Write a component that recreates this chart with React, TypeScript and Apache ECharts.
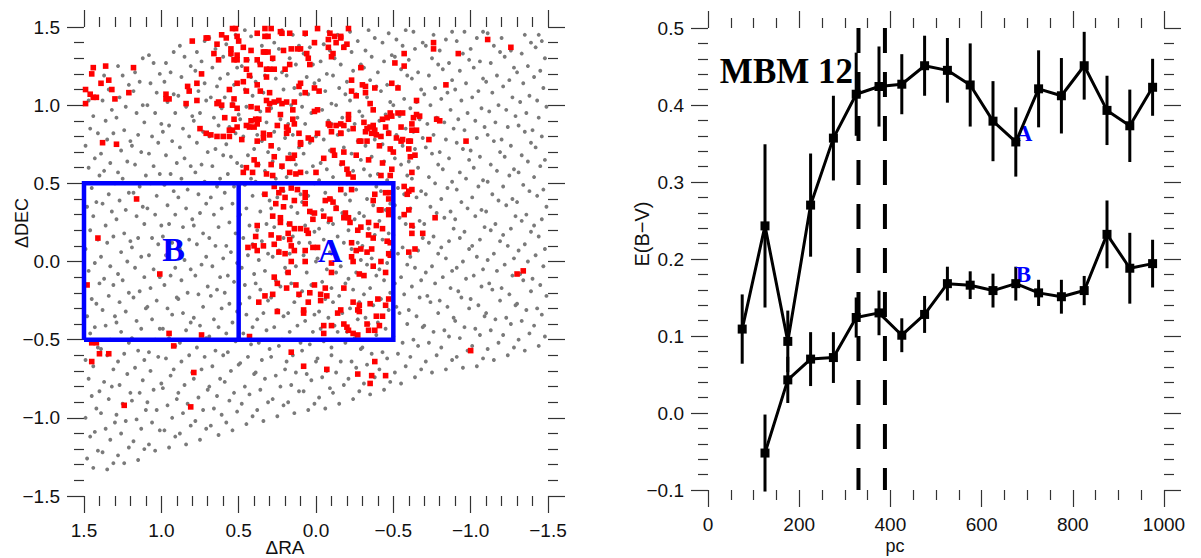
import React, { useEffect, useRef } from "react";
import * as echarts from "echarts";

// ---------------- Left panel data (ΔRA, ΔDEC pairs, flat) ----------------
const RED_STARS = [
  0.80,1.41, 0.71,1.43, 1.44,1.24, 1.36,1.25, 1.45,1.20, 1.34,1.16, 1.39,1.14, 1.18,1.24, 1.49,1.10, 1.32,1.10,
  1.46,1.07, 1.44,1.05, 1.42,1.05, 1.30,1.04, 1.21,1.08, 1.49,1.01, 0.97,1.07, 0.97,1.04, 0.95,1.04, 0.83,1.12,
  0.82,1.09, 0.77,1.14, 0.74,1.20, 0.77,1.03, 0.84,1.01, 0.75,0.85, 0.71,0.82, 1.38,0.76, 1.29,0.75,
  0.54,1.49, 0.52,1.49, 0.33,1.49, 0.29,1.49, -0.01,1.49, 0.70,1.43, 0.61,1.45, 0.58,1.43, 0.51,1.44, 0.38,1.46,
  0.33,1.44, 0.31,1.44, 0.23,1.47, 0.22,1.46, 0.17,1.46, 0.07,1.46, -0.09,1.46, -0.12,1.44, 0.01,1.40, -0.08,1.42,
  -0.13,1.40, -0.16,1.43, 0.64,1.39, 0.50,1.41, 0.47,1.37, 0.55,1.36, 0.42,1.35, 0.66,1.33, 0.63,1.29, 0.55,1.33,
  0.51,1.32, 0.51,1.29, 0.34,1.34, 0.33,1.34, 0.31,1.34, 0.21,1.35, 0.16,1.36, 0.12,1.36, 0.10,1.36, 0.06,1.33,
  0.05,1.30, 0.04,1.26, -0.08,1.37, -0.11,1.33, -0.10,1.31, 0.38,1.29, 0.28,1.30, 0.45,1.29, 0.53,1.29, 0.36,1.26,
  0.17,1.26, 0.45,1.23, 0.32,1.23, 0.30,1.23, 0.27,1.23, 0.20,1.23, 0.32,1.18, 0.43,1.19, 0.51,1.14, 0.47,1.15,
  0.10,1.14, 0.11,1.12, 0.07,1.08, 0.38,1.13, 0.56,1.10, 0.45,1.09, 0.36,1.09, 0.30,1.08, 0.01,1.11, -0.02,1.09,
  0.53,1.04, 0.63,1.02, 0.64,1.01, 0.61,1.00, 0.54,1.00, 0.51,0.98, 0.42,0.99, 0.38,0.98, 0.32,1.03, 0.30,1.01,
  0.27,1.02, 0.24,1.03, 0.22,1.01, 0.19,1.02, 0.14,1.02, -0.01,0.97, 0.01,0.96, 0.31,0.97, 0.15,0.97, 0.23,0.94,
  0.59,0.92, 0.53,0.91, 0.42,0.90, 0.39,0.91, 0.37,0.91, 0.38,0.88, 0.15,0.91, 0.14,0.88, 0.45,0.87, 0.43,0.86,
  0.40,0.86, 0.25,0.87, 0.19,0.86, 0.51,0.86, 0.56,0.84, 0.54,0.84, 0.18,0.84, 0.11,0.82, 0.05,0.79, 0.03,0.78,
  -0.01,0.82, -0.08,0.88, -0.09,0.87, -0.13,0.87, -0.16,0.88, -0.10,0.83, -0.16,0.82, 0.68,0.81, 0.64,0.80, 0.60,0.80,
  0.56,0.80, 0.34,0.82, 0.34,0.79, 0.48,0.78, 0.38,0.77, 0.30,0.81, 0.19,0.82, 0.10,0.76,
  -0.21,1.49, -0.16,1.44, -0.20,1.39, -0.18,1.37, -0.76,1.40, -0.76,1.36, -0.92,1.33, -0.57,1.33, -1.11,1.42, -0.51,1.27,
  -0.57,1.25, -0.29,1.24, -0.23,1.16, -0.30,1.13, -0.32,1.12, -0.38,1.11, -0.49,1.14, -0.53,1.11, -0.84,1.13, -0.23,1.09,
  -0.26,1.06, -0.32,1.08, -0.65,1.03, -0.35,1.01, -0.37,0.97, -0.21,0.94, -0.21,0.91, -0.48,0.95, -0.46,0.92, -0.49,0.93,
  -0.53,0.95, -0.56,0.95, -0.63,0.92, -0.65,0.94, -0.67,0.93, -0.78,0.91, -0.80,0.90, -0.18,0.87, -0.24,0.85, -0.31,0.89,
  -0.33,0.85, -0.32,0.83, -0.35,0.86, -0.37,0.87, -0.38,0.84, -0.45,0.86, -0.43,0.91, -0.55,0.86, -0.62,0.88, -0.62,0.84,
  -0.65,0.84, -0.16,0.82, -0.28,0.77, -0.33,0.77, -0.36,0.82, -0.39,0.81, -0.42,0.80, -0.47,0.82, -0.52,0.79, -0.56,0.78,
  -0.60,0.77, -0.73,0.78, -0.97,0.77, -1.26,1.37, 1.16,0.40, 1.41,0.15,
  0.47,0.57, 0.45,0.60, 0.41,0.57, 0.40,0.65, 0.38,0.62, 0.29,0.74, 0.32,0.56, 0.28,0.55, 0.27,0.67, 0.29,0.62,
  0.22,0.61, 0.18,0.66, 0.15,0.66, 0.14,0.68, 0.10,0.75, 0.17,0.57, 0.13,0.56, 0.10,0.57, 0.00,0.57, -0.05,0.66,
  -0.12,0.68, -0.11,0.71, 0.27,0.48, 0.24,0.44, 0.22,0.46, 0.20,0.41, 0.33,0.43, 0.16,0.47, 0.12,0.46, 0.07,0.44,
  0.26,0.37, 0.21,0.35, 0.14,0.39, 0.07,0.37, 0.07,0.41, 0.04,0.32, 0.01,0.31, 0.02,0.27, -0.05,0.29, -0.09,0.27,
  -0.09,0.40, -0.11,0.38, -0.06,0.39, -0.13,0.34, 0.23,0.28, 0.23,0.25, 0.28,0.29, 0.17,0.24, 0.14,0.21, 0.10,0.21,
  0.38,0.23, 0.39,0.16, 0.29,0.17, 0.24,0.15, 0.18,0.18, 0.17,0.14, 0.06,0.20, 0.05,0.18, 0.44,0.09, 0.40,0.10,
  0.38,0.07, 0.34,0.10, 0.27,0.11, 0.24,0.06, 0.20,0.05, 0.16,0.10, 0.14,0.07, 0.07,0.07, 0.02,0.09, -0.01,0.09,
  -0.10,-0.01, 0.07,0.00, 0.16,0.00,
  -0.18,0.70, -0.29,0.77, -0.41,0.74, -0.48,0.72, -0.50,0.70, -0.55,0.77, -0.61,0.77, -0.60,0.72, -0.61,0.67, -0.64,0.68,
  -0.26,0.68, -0.34,0.65, -0.43,0.63, -0.17,0.63, -0.20,0.59, -0.21,0.56, -0.49,0.59, -0.48,0.55, -0.42,0.55, -0.62,0.57,
  -0.24,0.54, -0.16,0.46, -0.23,0.46, -0.57,0.48, -0.60,0.45, -0.62,0.46, -0.59,0.43, -0.38,0.43, -0.37,0.39, -0.45,0.44,
  -0.48,0.44, -0.47,0.40, -0.19,0.31, -0.18,0.28, -0.21,0.28, -0.22,0.25, -0.41,0.33, -0.42,0.33, -0.47,0.33, -0.47,0.30,
  -0.60,0.33, -0.57,0.30, -0.34,0.25, -0.39,0.23, -0.43,0.21, -0.29,0.22, -0.27,0.20, -0.34,0.17, -0.37,0.15, -0.62,0.23,
  -0.69,0.18, -0.62,0.18, -0.77,0.28, -0.23,0.12, -0.26,0.07, -0.29,0.08, -0.33,0.06, -0.36,0.08, -0.46,0.13, -0.48,0.12,
  -0.47,0.05, -0.64,0.08, -0.60,0.06, -0.24,0.00, -0.23,0.03, -0.37,-0.03, -0.42,0.00, -0.48,0.04,
  1.48,-0.15, 1.01,-0.08, 0.27,-0.10, 0.18,-0.07, -0.10,-0.07, -0.28,-0.08, -0.31,-0.09, -0.45,-0.07, 0.25,-0.14, 0.19,-0.17,
  0.13,-0.15, 0.01,-0.15, -0.06,-0.17, -0.18,-0.17, -0.07,-0.22, -0.03,-0.21, 0.04,-0.20, 0.11,-0.21, 0.28,-0.21, 0.33,-0.22,
  0.37,-0.26, 0.05,-0.26, -0.03,-0.25, -0.24,-0.26, -0.28,-0.28, -0.35,-0.27, -0.40,-0.24, -0.47,-0.24, -0.45,-0.28, 0.25,-0.32,
  0.08,-0.31, 0.08,-0.33, -0.14,-0.33, -0.16,-0.31, -0.27,-0.31, -0.28,-0.32, -0.39,-0.35, -0.43,-0.35, -0.05,-0.41, -0.10,-0.41,
  -0.18,-0.40, -0.20,-0.42, -0.21,-0.44, -0.33,-0.40, -0.41,-0.41, -0.38,-0.44, -0.34,-0.44, -0.05,-0.46, -0.24,-0.46, -0.27,-0.47,
  0.95,-0.46, 0.74,-0.47, 0.43,-0.48, 1.45,-0.52, 1.42,-0.52, 1.40,-0.59, 1.34,-0.59, 1.45,-0.64, 0.92,-0.54, 0.79,-0.71,
  0.16,-0.58, 0.08,-0.67, -0.07,-0.69, -0.27,-0.72, -0.38,-0.64, -0.36,-0.73, -0.35,-0.78, -0.45,-0.73, 1.24,-0.92, 0.81,-0.93,
  -1.00,-0.57, -1.30,-0.08, -1.34,-0.06,
];

const GRAY_STARS = [
  1.44,-1.32, 1.48,-1.26, 1.41,-1.21, 1.46,-1.12, 1.43,-1.09, 1.49,-1.0, 1.42,-0.94, 1.45,-0.86, 1.40,-0.83, 1.47,-0.75,
  1.44,-0.67, 1.49,-0.63, 1.41,-0.55, 1.46,-0.46, 1.43,-0.42, 1.48,-0.35, 1.42,-0.27, 1.45,-0.24, 1.40,-0.14, 1.47,-0.06,
  1.43,-0.01, 1.49,0.08, 1.41,0.14, 1.46,0.2, 1.44,0.29, 1.48,0.35, 1.42,0.38, 1.45,0.47, 1.40,0.55, 1.47,0.6,
  1.43,0.66, 1.49,0.74, 1.41,0.82, 1.46,0.85, 1.44,0.93, 1.47,1.03,
  1.35,-1.33, 1.31,-1.29, 1.38,-1.22, 1.33,-1.14, 1.36,-1.07, 1.30,-1.03, 1.39,-0.97, 1.34,-0.88, 1.32,-0.8, 1.37,-0.77,
  1.31,-0.69, 1.35,-0.6, 1.39,-0.56, 1.33,-0.5, 1.36,-0.41, 1.30,-0.35, 1.38,-0.31, 1.34,-0.22, 1.31,-0.15, 1.37,-0.11,
  1.33,-0.03, 1.39,0.03, 1.35,0.12, 1.31,0.16, 1.36,0.23, 1.32,0.32, 1.38,0.37, 1.34,0.43, 1.30,0.5, 1.37,0.58,
  1.33,0.63, 1.39,0.69, 1.35,0.78, 1.31,0.82, 1.36,0.9, 1.32,0.97, 1.38,1.03, 1.34,1.1, 1.37,1.19,
  1.24,-1.29, 1.28,-1.24, 1.21,-1.19, 1.26,-1.1, 1.23,-1.02, 1.29,-0.98, 1.25,-0.91, 1.20,-0.84, 1.27,-0.79, 1.22,-0.72,
  1.28,-0.64, 1.24,-0.59, 1.21,-0.52, 1.26,-0.45, 1.29,-0.39, 1.23,-0.32, 1.27,-0.26, 1.21,-0.2, 1.25,-0.12, 1.28,-0.08,
  1.22,0.0, 1.26,0.06, 1.20,0.13, 1.24,0.18, 1.29,0.27, 1.23,0.33, 1.27,0.39, 1.21,0.44, 1.25,0.53, 1.28,0.57,
  1.22,0.64, 1.26,0.71, 1.20,0.77, 1.24,0.84, 1.29,0.92, 1.23,0.99, 1.27,1.05, 1.21,1.13, 1.25,1.19, 1.28,1.25,
  1.15,-1.27, 1.11,-1.2, 1.18,-1.15, 1.13,-1.07, 1.16,-1.01, 1.10,-0.95, 1.19,-0.89, 1.14,-0.84, 1.12,-0.76, 1.17,-0.68,
  1.11,-0.63, 1.15,-0.57, 1.19,-0.49, 1.13,-0.43, 1.16,-0.38, 1.10,-0.3, 1.18,-0.23, 1.14,-0.19, 1.11,-0.1, 1.17,-0.04,
  1.13,0.03, 1.19,0.09, 1.15,0.15, 1.11,0.24, 1.16,0.29, 1.12,0.35, 1.18,0.44, 1.14,0.48, 1.10,0.55, 1.17,0.62,
  1.13,0.7, 1.19,0.74, 1.15,0.81, 1.11,0.89, 1.16,0.95, 1.12,1.0, 1.18,1.09, 1.14,1.15, 1.17,1.21, 1.12,1.3,
  1.04,-1.21, 1.08,-1.17, 1.01,-1.08, 1.06,-1.03, 1.03,-0.95, 1.09,-0.9, 1.05,-0.82, 1.00,-0.78, 1.07,-0.7, 1.02,-0.61,
  1.08,-0.58, 1.04,-0.5, 1.01,-0.43, 1.06,-0.37, 1.09,-0.29, 1.03,-0.25, 1.07,-0.17, 1.01,-0.1, 1.05,-0.05, 1.08,0.04,
  1.02,0.11, 1.06,0.15, 1.00,0.23, 1.04,0.3, 1.09,0.34, 1.03,0.42, 1.07,0.5, 1.01,0.56, 1.05,0.61, 1.08,0.69,
  1.02,0.76, 1.06,0.8, 1.00,0.88, 1.04,0.95, 1.09,1.0, 1.03,1.08, 1.07,1.14, 1.01,1.2, 1.05,1.27, 1.08,1.32,
  0.95,-1.19, 0.91,-1.12, 0.98,-1.08, 0.93,-1.0, 0.96,-0.92, 0.90,-0.88, 0.99,-0.81, 0.94,-0.73, 0.92,-0.69, 0.97,-0.62,
  0.91,-0.54, 0.95,-0.49, 0.99,-0.43, 0.93,-0.34, 0.96,-0.3, 0.90,-0.23, 0.98,-0.15, 0.94,-0.09, 0.91,-0.04, 0.97,0.04,
  0.93,0.12, 0.99,0.16, 0.95,0.24, 0.91,0.3, 0.96,0.36, 0.92,0.45, 0.98,0.49, 0.94,0.56, 0.90,0.63, 0.97,0.68,
  0.93,0.77, 0.99,0.83, 0.95,0.87, 0.91,0.95, 0.96,1.02, 0.92,1.07, 0.98,1.15, 0.94,1.21, 0.97,1.27, 0.92,1.34,
  0.84,-1.17, 0.88,-1.1, 0.81,-1.05, 0.86,-0.97, 0.83,-0.91, 0.89,-0.84, 0.85,-0.79, 0.80,-0.71, 0.87,-0.64, 0.82,-0.6,
  0.88,-0.52, 0.84,-0.44, 0.81,-0.39, 0.86,-0.33, 0.89,-0.24, 0.83,-0.2, 0.87,-0.12, 0.81,-0.05, 0.85,0.01, 0.88,0.08,
  0.82,0.14, 0.86,0.22, 0.80,0.27, 0.84,0.34, 0.89,0.41, 0.83,0.46, 0.87,0.53, 0.81,0.61, 0.85,0.66, 0.88,0.73,
  0.82,0.8, 0.86,0.85, 0.80,0.93, 0.84,0.99, 0.89,1.06, 0.83,1.12, 0.87,1.18, 0.81,1.25, 0.85,1.31, 0.88,1.38,
  0.75,-1.14, 0.71,-1.07, 0.78,-1.02, 0.73,-0.95, 0.76,-0.87, 0.70,-0.82, 0.79,-0.75, 0.74,-0.69, 0.72,-0.61, 0.77,-0.55,
  0.71,-0.49, 0.75,-0.41, 0.79,-0.36, 0.73,-0.29, 0.76,-0.21, 0.70,-0.16, 0.78,-0.09, 0.74,-0.02, 0.71,0.03, 0.77,0.11,
  0.73,0.18, 0.79,0.23, 0.75,0.31, 0.71,0.37, 0.76,0.43, 0.72,0.51, 0.78,0.57, 0.74,0.62, 0.70,0.7, 0.77,0.76,
  0.73,0.83, 0.79,0.9, 0.75,0.95, 0.71,1.03, 0.76,1.09, 0.72,1.14, 0.78,1.22, 0.74,1.28, 0.77,1.34, 0.72,1.41,
  0.63,-1.11, 0.68,-1.05, 0.61,-0.98, 0.66,-0.94, 0.64,-0.86, 0.69,-0.8, 0.62,-0.75, 0.67,-0.67, 0.60,-0.6, 0.65,-0.57,
  0.69,-0.48, 0.63,-0.42, 0.66,-0.37, 0.61,-0.3, 0.68,-0.22, 0.64,-0.18, 0.62,-0.1, 0.67,-0.03, 0.60,0.02, 0.65,0.1,
  0.69,0.15, 0.63,0.22, 0.66,0.3, 0.61,0.34, 0.68,0.41, 0.64,0.48, 0.62,0.53, 0.67,0.61, 0.60,0.68, 0.65,0.72,
  0.69,0.8, 0.63,0.87, 0.66,0.92, 0.61,0.98, 0.68,1.05, 0.64,1.12, 0.62,1.17, 0.67,1.24, 0.60,1.31, 0.65,1.36, 0.69,1.43,
  0.54,-1.08, 0.58,-1.03, 0.51,-0.96, 0.56,-0.89, 0.53,-0.84, 0.59,-0.77, 0.55,-0.7, 0.50,-0.66, 0.57,-0.58, 0.52,-0.51,
  0.58,-0.46, 0.54,-0.39, 0.51,-0.32, 0.56,-0.27, 0.59,-0.2, 0.53,-0.13, 0.57,-0.09, 0.51,-0.01, 0.55,0.06, 0.58,0.1,
  0.52,0.18, 0.56,0.25, 0.50,0.29, 0.54,0.37, 0.59,0.44, 0.53,0.48, 0.57,0.56, 0.51,0.63, 0.55,0.67, 0.58,0.75,
  0.52,0.82, 0.56,0.86, 0.50,0.94, 0.54,1.01, 0.59,1.05, 0.53,1.13, 0.57,1.2, 0.51,1.24, 0.55,1.32, 0.58,1.39, 0.52,1.45,
  0.45,-1.04, 0.41,-0.99, 0.48,-0.91, 0.43,-0.85, 0.46,-0.8, 0.40,-0.72, 0.49,-0.65, 0.44,-0.61, 0.42,-0.53, 0.47,-0.46,
  0.41,-0.42, 0.45,-0.34, 0.49,-0.27, 0.43,-0.23, 0.46,-0.15, 0.40,-0.08, 0.48,-0.04, 0.44,0.04, 0.41,0.11, 0.47,0.15,
  0.43,0.23, 0.49,0.3, 0.45,0.34, 0.41,0.42, 0.46,0.49, 0.42,0.53, 0.48,0.61, 0.44,0.68, 0.40,0.72, 0.47,0.8,
  0.43,0.87, 0.49,0.91, 0.45,0.99, 0.41,1.06, 0.46,1.1, 0.42,1.18, 0.48,1.25, 0.44,1.29, 0.47,1.37, 0.42,1.44, 0.46,1.48,
  0.34,-1.02, 0.38,-0.95, 0.31,-0.9, 0.36,-0.82, 0.33,-0.75, 0.39,-0.71, 0.35,-0.63, 0.30,-0.56, 0.37,-0.52, 0.32,-0.44,
  0.38,-0.37, 0.34,-0.33, 0.31,-0.25, 0.36,-0.18, 0.39,-0.14, 0.33,-0.06, 0.37,0.01, 0.31,0.05, 0.35,0.13, 0.38,0.2,
  0.32,0.24, 0.36,0.32, 0.30,0.39, 0.34,0.43, 0.39,0.51, 0.33,0.58, 0.37,0.62, 0.31,0.7, 0.35,0.77, 0.38,0.81,
  0.32,0.89, 0.36,0.96, 0.30,1.0, 0.34,1.08, 0.39,1.15, 0.33,1.19, 0.37,1.27, 0.31,1.34, 0.35,1.38, 0.38,1.46,
  0.25,-0.99, 0.21,-0.92, 0.28,-0.88, 0.23,-0.8, 0.26,-0.73, 0.20,-0.69, 0.29,-0.61, 0.24,-0.54, 0.22,-0.5, 0.27,-0.42,
  0.21,-0.35, 0.25,-0.31, 0.29,-0.23, 0.23,-0.16, 0.26,-0.12, 0.20,-0.04, 0.28,0.03, 0.24,0.07, 0.21,0.15, 0.27,0.22,
  0.23,0.26, 0.29,0.34, 0.25,0.41, 0.21,0.45, 0.26,0.53, 0.22,0.6, 0.28,0.64, 0.24,0.72, 0.20,0.79, 0.27,0.83,
  0.23,0.91, 0.29,0.98, 0.25,1.02, 0.21,1.1, 0.26,1.17, 0.22,1.21, 0.28,1.29, 0.24,1.36, 0.27,1.4, 0.22,1.48,
  0.14,-0.97, 0.18,-0.9, 0.11,-0.83, 0.16,-0.79, 0.13,-0.71, 0.19,-0.64, 0.15,-0.6, 0.10,-0.52, 0.17,-0.45, 0.12,-0.41,
  0.18,-0.33, 0.14,-0.26, 0.11,-0.22, 0.16,-0.14, 0.19,-0.07, 0.13,-0.03, 0.17,0.05, 0.11,0.12, 0.15,0.16, 0.18,0.24,
  0.12,0.31, 0.16,0.35, 0.10,0.43, 0.14,0.5, 0.19,0.54, 0.13,0.62, 0.17,0.69, 0.11,0.73, 0.15,0.81, 0.18,0.88,
  0.12,0.92, 0.16,1.0, 0.10,1.07, 0.14,1.11, 0.19,1.19, 0.13,1.26, 0.17,1.3, 0.11,1.38, 0.15,1.45,
  0.05,-0.95, 0.01,-0.91, 0.08,-0.83, 0.03,-0.76, 0.06,-0.72, 0.00,-0.64, 0.09,-0.57, 0.04,-0.53, 0.02,-0.45, 0.07,-0.38,
  0.01,-0.34, 0.05,-0.26, 0.09,-0.19, 0.03,-0.15, 0.06,-0.07, 0.00,0.0, 0.08,0.04, 0.04,0.12, 0.01,0.19, 0.07,0.23,
  0.03,0.31, 0.09,0.38, 0.05,0.42, 0.01,0.5, 0.06,0.57, 0.02,0.61, 0.08,0.69, 0.04,0.76, 0.00,0.8, 0.07,0.88,
  0.03,0.95, 0.09,0.99, 0.05,1.07, 0.01,1.14, 0.06,1.18, 0.02,1.26, 0.08,1.33, 0.04,1.37, 0.07,1.45,
  -0.06,-0.94, -0.02,-0.87, -0.09,-0.81, -0.04,-0.74, -0.07,-0.7, -0.01,-0.62, -0.10,-0.55, -0.05,-0.51, -0.03,-0.43, -0.08,-0.36,
  -0.02,-0.32, -0.06,-0.24, -0.10,-0.17, -0.04,-0.13, -0.07,-0.05, -0.01,0.02, -0.09,0.06, -0.05,0.14, -0.02,0.21, -0.08,0.25,
  -0.04,0.33, -0.10,0.4, -0.06,0.44, -0.02,0.52, -0.07,0.59, -0.03,0.63, -0.09,0.71, -0.05,0.78, -0.01,0.82, -0.08,0.9,
  -0.04,0.97, -0.10,1.01, -0.06,1.09, -0.02,1.16, -0.07,1.2, -0.03,1.28, -0.09,1.35, -0.05,1.39, -0.08,1.47,
  -0.15,-0.91, -0.11,-0.84, -0.18,-0.79, -0.13,-0.71, -0.16,-0.64, -0.10,-0.6, -0.19,-0.52, -0.14,-0.45, -0.12,-0.41, -0.17,-0.33,
  -0.11,-0.26, -0.15,-0.22, -0.19,-0.14, -0.13,-0.07, -0.16,-0.03, -0.10,0.05, -0.18,0.12, -0.14,0.16, -0.11,0.24, -0.17,0.31,
  -0.13,0.35, -0.19,0.43, -0.15,0.5, -0.11,0.54, -0.16,0.62, -0.12,0.69, -0.18,0.73, -0.14,0.81, -0.10,0.88, -0.17,0.92,
  -0.13,1.0, -0.19,1.07, -0.15,1.11, -0.11,1.19, -0.16,1.26, -0.12,1.3, -0.18,1.38, -0.14,1.45,
  -0.24,-0.88, -0.28,-0.83, -0.21,-0.75, -0.26,-0.68, -0.23,-0.64, -0.29,-0.56, -0.25,-0.49, -0.20,-0.45, -0.27,-0.37, -0.22,-0.3,
  -0.28,-0.26, -0.24,-0.18, -0.21,-0.11, -0.26,-0.07, -0.29,0.01, -0.23,0.08, -0.27,0.12, -0.21,0.2, -0.25,0.27, -0.28,0.31,
  -0.22,0.39, -0.26,0.46, -0.20,0.5, -0.24,0.58, -0.29,0.65, -0.23,0.69, -0.27,0.77, -0.21,0.84, -0.25,0.88, -0.28,0.96,
  -0.22,1.03, -0.26,1.07, -0.20,1.15, -0.24,1.22, -0.29,1.26, -0.23,1.34, -0.27,1.41, -0.22,1.47,
  -0.35,-0.85, -0.31,-0.78, -0.38,-0.74, -0.33,-0.66, -0.36,-0.59, -0.30,-0.55, -0.39,-0.47, -0.34,-0.4, -0.32,-0.36, -0.37,-0.28,
  -0.31,-0.21, -0.35,-0.17, -0.39,-0.09, -0.33,-0.02, -0.36,0.02, -0.30,0.1, -0.38,0.17, -0.34,0.21, -0.31,0.29, -0.37,0.36,
  -0.33,0.4, -0.39,0.48, -0.35,0.55, -0.31,0.59, -0.36,0.67, -0.32,0.74, -0.38,0.78, -0.34,0.86, -0.30,0.93, -0.37,0.97,
  -0.33,1.05, -0.39,1.12, -0.35,1.16, -0.31,1.24, -0.36,1.31, -0.32,1.35, -0.38,1.43, -0.34,1.48,
  -0.44,-0.82, -0.48,-0.77, -0.41,-0.69, -0.46,-0.62, -0.43,-0.58, -0.49,-0.5, -0.45,-0.43, -0.40,-0.39, -0.47,-0.31, -0.42,-0.24,
  -0.48,-0.2, -0.44,-0.12, -0.41,-0.05, -0.46,-0.01, -0.49,0.07, -0.43,0.14, -0.47,0.18, -0.41,0.26, -0.45,0.33, -0.48,0.37,
  -0.42,0.45, -0.46,0.52, -0.40,0.56, -0.44,0.64, -0.49,0.71, -0.43,0.75, -0.47,0.83, -0.41,0.9, -0.45,0.94, -0.48,1.02,
  -0.42,1.09, -0.46,1.13, -0.40,1.21, -0.44,1.28, -0.49,1.32, -0.43,1.4, -0.47,1.46,
  -0.55,-0.78, -0.51,-0.71, -0.58,-0.67, -0.53,-0.59, -0.56,-0.52, -0.50,-0.48, -0.59,-0.4, -0.54,-0.33, -0.52,-0.29, -0.57,-0.21,
  -0.51,-0.14, -0.55,-0.1, -0.59,-0.02, -0.53,0.05, -0.56,0.09, -0.50,0.17, -0.58,0.24, -0.54,0.28, -0.51,0.36, -0.57,0.43,
  -0.53,0.47, -0.59,0.55, -0.55,0.62, -0.51,0.66, -0.56,0.74, -0.52,0.81, -0.58,0.85, -0.54,0.93, -0.50,1.0, -0.57,1.04,
  -0.53,1.12, -0.59,1.19, -0.55,1.23, -0.51,1.31, -0.56,1.38, -0.52,1.42, -0.58,1.48,
  -0.64,-0.74, -0.68,-0.69, -0.61,-0.61, -0.66,-0.54, -0.63,-0.5, -0.69,-0.42, -0.65,-0.35, -0.60,-0.31, -0.67,-0.23, -0.62,-0.16,
  -0.68,-0.12, -0.64,-0.04, -0.61,0.03, -0.66,0.07, -0.69,0.15, -0.63,0.22, -0.67,0.26, -0.61,0.34, -0.65,0.41, -0.68,0.45,
  -0.62,0.53, -0.66,0.6, -0.60,0.64, -0.64,0.72, -0.69,0.79, -0.63,0.83, -0.67,0.91, -0.61,0.98, -0.65,1.02, -0.68,1.1,
  -0.62,1.17, -0.66,1.21, -0.60,1.29, -0.64,1.36, -0.69,1.4, -0.63,1.47,
  -0.75,-0.71, -0.71,-0.64, -0.78,-0.6, -0.73,-0.52, -0.76,-0.45, -0.70,-0.41, -0.79,-0.33, -0.74,-0.26, -0.72,-0.22, -0.77,-0.14,
  -0.71,-0.07, -0.75,-0.03, -0.79,0.05, -0.73,0.12, -0.76,0.16, -0.70,0.24, -0.78,0.31, -0.74,0.35, -0.71,0.43, -0.77,0.5,
  -0.73,0.54, -0.79,0.62, -0.75,0.69, -0.71,0.73, -0.76,0.81, -0.72,0.88, -0.78,0.92, -0.74,1.0, -0.70,1.07, -0.77,1.11,
  -0.73,1.19, -0.79,1.26, -0.75,1.3, -0.71,1.38, -0.76,1.45,
  -0.84,-0.69, -0.88,-0.63, -0.81,-0.55, -0.86,-0.48, -0.83,-0.44, -0.89,-0.36, -0.85,-0.29, -0.80,-0.25, -0.87,-0.17, -0.82,-0.1,
  -0.88,-0.06, -0.84,0.02, -0.81,0.09, -0.86,0.13, -0.89,0.21, -0.83,0.28, -0.87,0.32, -0.81,0.4, -0.85,0.47, -0.88,0.51,
  -0.82,0.59, -0.86,0.66, -0.80,0.7, -0.84,0.78, -0.89,0.85, -0.83,0.89, -0.87,0.97, -0.81,1.04, -0.85,1.08, -0.88,1.16,
  -0.82,1.23, -0.86,1.27, -0.80,1.35, -0.84,1.42, -0.88,1.47,
  -0.95,-0.68, -0.91,-0.61, -0.98,-0.57, -0.93,-0.49, -0.96,-0.42, -0.90,-0.38, -0.99,-0.3, -0.94,-0.23, -0.92,-0.19, -0.97,-0.11,
  -0.91,-0.04, -0.95,0.0, -0.99,0.08, -0.93,0.15, -0.96,0.19, -0.90,0.27, -0.98,0.34, -0.94,0.38, -0.91,0.46, -0.97,0.53,
  -0.93,0.57, -0.99,0.65, -0.95,0.72, -0.91,0.76, -0.96,0.84, -0.92,0.91, -0.98,0.95, -0.94,1.03, -0.90,1.1, -0.97,1.14,
  -0.93,1.22, -0.99,1.29, -0.95,1.33, -0.91,1.41, -0.96,1.47,
  -1.04,-0.67, -1.08,-0.62, -1.01,-0.54, -1.06,-0.47, -1.03,-0.43, -1.09,-0.35, -1.05,-0.28, -1.00,-0.24, -1.07,-0.16, -1.02,-0.09,
  -1.08,-0.05, -1.04,0.03, -1.01,0.1, -1.06,0.14, -1.09,0.22, -1.03,0.29, -1.07,0.33, -1.01,0.41, -1.05,0.48, -1.08,0.52,
  -1.02,0.6, -1.06,0.67, -1.00,0.71, -1.04,0.79, -1.09,0.86, -1.03,0.9, -1.07,0.98, -1.01,1.05, -1.05,1.09, -1.08,1.17,
  -1.02,1.24, -1.06,1.28, -1.00,1.36, -1.04,1.43, -1.08,1.47,
  -1.15,-0.63, -1.11,-0.56, -1.18,-0.52, -1.13,-0.44, -1.16,-0.37, -1.10,-0.33, -1.19,-0.25, -1.14,-0.18, -1.12,-0.14, -1.17,-0.06,
  -1.11,0.01, -1.15,0.05, -1.19,0.13, -1.13,0.2, -1.16,0.24, -1.10,0.32, -1.18,0.39, -1.14,0.43, -1.11,0.51, -1.17,0.58,
  -1.13,0.62, -1.19,0.7, -1.15,0.77, -1.11,0.81, -1.16,0.89, -1.12,0.96, -1.18,1.0, -1.14,1.08, -1.10,1.15, -1.17,1.19,
  -1.13,1.27, -1.19,1.34, -1.15,1.38, -1.11,1.46,
  -1.24,-0.6, -1.28,-0.55, -1.21,-0.47, -1.26,-0.4, -1.23,-0.36, -1.29,-0.28, -1.25,-0.21, -1.20,-0.17, -1.27,-0.09, -1.22,-0.02,
  -1.28,0.02, -1.24,0.1, -1.21,0.17, -1.26,0.21, -1.29,0.29, -1.23,0.36, -1.27,0.4, -1.21,0.48, -1.25,0.55, -1.28,0.59,
  -1.22,0.67, -1.26,0.74, -1.20,0.78, -1.24,0.86, -1.29,0.93, -1.23,0.97, -1.27,1.05, -1.21,1.12, -1.25,1.16, -1.28,1.24,
  -1.22,1.31, -1.26,1.35, -1.20,1.43,
  -1.35,-0.57, -1.31,-0.5, -1.38,-0.46, -1.33,-0.38, -1.36,-0.31, -1.30,-0.27, -1.39,-0.19, -1.34,-0.12, -1.32,-0.08, -1.37,0.0,
  -1.31,0.07, -1.35,0.11, -1.39,0.19, -1.33,0.26, -1.36,0.3, -1.30,0.38, -1.38,0.45, -1.34,0.49, -1.31,0.57, -1.37,0.64,
  -1.33,0.68, -1.39,0.76, -1.35,0.83, -1.31,0.87, -1.36,0.95, -1.32,1.02, -1.38,1.06, -1.34,1.14, -1.30,1.21, -1.37,1.25,
  -1.33,1.33, -1.39,1.4, -1.35,1.45,
  -1.44,-0.54, -1.48,-0.48, -1.41,-0.41, -1.46,-0.34, -1.43,-0.3, -1.49,-0.22, -1.45,-0.15, -1.40,-0.11, -1.47,-0.03, -1.42,0.04,
  -1.48,0.08, -1.44,0.16, -1.41,0.23, -1.46,0.27, -1.49,0.35, -1.43,0.42, -1.47,0.46, -1.41,0.54, -1.45,0.61, -1.48,0.65,
  -1.42,0.73, -1.46,0.8, -1.40,0.84, -1.44,0.92, -1.49,0.99, -1.43,1.03, -1.47,1.11, -1.41,1.18, -1.45,1.22, -1.48,1.3,
  -1.42,1.37, -1.46,1.41, -1.44,1.45,
];

// Regions A and B (blue boxes), in ΔRA/ΔDEC
const BOX_OUTLINE = [[1.5, -0.5], [1.5, 0.5], [-0.5, 0.5], [-0.5, -0.5], [1.5, -0.5]];
const BOX_DIVIDER = [[0.5, 0.5], [0.5, -0.5]];
const REGION_LABELS = [[0.92, 0.076, "B"], [-0.09, 0.072, "A"]];

// ---------------- Right panel data ----------------
const DIST_A = [75, 125, 175, 225, 275, 325, 375, 425, 475, 525, 575, 625, 675, 725, 775, 825, 875, 925, 975];
const EBV_A = [0.109, 0.243, 0.093, 0.27, 0.357, 0.414, 0.424, 0.427, 0.451, 0.445, 0.426, 0.379, 0.352, 0.421, 0.412, 0.451, 0.393, 0.373, 0.423];
const ERR_A = [0.045, 0.106, 0.04, 0.067, 0.055, 0.054, 0.052, 0.039, 0.039, 0.042, 0.054, 0.052, 0.045, 0.05, 0.049, 0.044, 0.045, 0.047, 0.037];
const DIST_B = [125, 175, 225, 275, 325, 375, 425, 475, 525, 575, 625, 675, 725, 775, 825, 875, 925, 975];
const EBV_B = [-0.052, 0.043, 0.07, 0.072, 0.124, 0.13, 0.101, 0.128, 0.168, 0.166, 0.159, 0.168, 0.156, 0.151, 0.159, 0.232, 0.188, 0.194];
const ERR_B = [0.05, 0.03, 0.035, 0.033, 0.026, 0.029, 0.022, 0.024, 0.022, 0.018, 0.022, 0.022, 0.017, 0.022, 0.019, 0.044, 0.046, 0.031];
const CLOUD_DISTANCES = [330, 388];
const PANEL_TEXTS = [[26, 0.443, "MBM 12"]];
const CURVE_LABELS = [[675, 0.363, "A"], [675, 0.18, "B"]];

const SANS = "'Liberation Sans', Arial, Helvetica, sans-serif";
const SERIF = "'Liberation Serif', 'Times New Roman', serif";
const TICK = { color: "#333", width: 1.2 };

const pairs = (flat: number[]) => {
  const out: number[][] = [];
  for (let i = 0; i + 1 < flat.length; i += 2) out.push([flat[i], flat[i + 1]]);
  return out;
};
const fmt1 = (v: number) => {
  const x = Math.abs(v) < 1e-9 ? 0 : v;
  return (x < 0 ? "\u2212" : "") + Math.abs(x).toFixed(1);
};

function axisBase(extra: any) {
  return {
    type: "value",
    axisLine: { show: false, onZero: false },
    splitLine: { show: false },
    axisTick: { show: true, length: 17, lineStyle: TICK },
    ...extra,
  };
}

export default function App() {
  const ref = useRef<HTMLDivElement>(null);
  useEffect(() => {
    document.body.style.margin = "0";
    if (!ref.current) return;
    const chart = echarts.init(ref.current, undefined, { renderer: "svg" });
    const labelStyle = { fontSize: 19, color: "#111", fontFamily: SANS };

    const xLeft = {
      gridIndex: 0, min: -1.5, max: 1.5, interval: 0.5, inverse: true,
      minorTick: { show: true, splitNumber: 5, length: 10, lineStyle: TICK },
    };
    const yLeft = {
      gridIndex: 0, min: -1.5, max: 1.5, interval: 0.5,
      minorTick: { show: true, splitNumber: 5, length: 10, lineStyle: TICK },
    };
    const xRight = {
      gridIndex: 1, min: 0, max: 1000, interval: 200,
      minorTick: { show: true, splitNumber: 4, length: 10, lineStyle: TICK },
    };
    const yRight = {
      gridIndex: 1, min: -0.1, max: 0.5, interval: 0.1,
      minorTick: { show: true, splitNumber: 5, length: 10, lineStyle: TICK },
    };

    const errBar = (dist: number[], val: number[], err: number[]) => ({
      type: "custom",
      xAxisIndex: 2,
      yAxisIndex: 2,
      silent: true,
      data: dist.map((d, i) => [d, val[i] - err[i], val[i] + err[i]]),
      encode: { x: 0, y: [1, 2] },
      renderItem: (_p: any, api: any) => {
        const a = api.coord([api.value(0), api.value(1)]);
        const b = api.coord([api.value(0), api.value(2)]);
        return {
          type: "line",
          shape: { x1: a[0], y1: a[1], x2: b[0], y2: b[1] },
          style: { stroke: "#000", lineWidth: 3 },
        };
      },
    });

    const curve = (dist: number[], val: number[]) => ({
      type: "line",
      xAxisIndex: 2,
      yAxisIndex: 2,
      data: dist.map((d, i) => [d, val[i]]),
      symbol: "rect",
      symbolSize: 9,
      lineStyle: { color: "#000", width: 3 },
      itemStyle: { color: "#000", opacity: 1 },
      silent: true,
    });

    const textScatter = (xi: number, yi: number, data: any[], font: any, align: string) => ({
      type: "scatter",
      xAxisIndex: xi,
      yAxisIndex: yi,
      symbolSize: 0,
      silent: true,
      itemStyle: { opacity: 1 },
      data,
      label: {
        show: true,
        position: [0, 0],
        align,
        verticalAlign: "middle",
        formatter: (p: any) => p.data[2],
        ...font,
      },
    });

    chart.setOption({
      animation: false,
      backgroundColor: "#fff",
      grid: [
        { left: 84, top: 27, width: 464, height: 469 },
        { left: 708, top: 28, width: 456, height: 462 },
      ],
      xAxis: [
        axisBase({ ...xLeft, position: "bottom", axisLabel: { ...labelStyle, margin: 25, formatter: fmt1, showMinLabel: true, showMaxLabel: true } }),
        axisBase({ ...xLeft, position: "top", axisLabel: { show: false } }),
        axisBase({ ...xRight, position: "bottom", axisLabel: { ...labelStyle, margin: 25, formatter: (v: number) => String(Math.round(v)), showMinLabel: true, showMaxLabel: true } }),
        axisBase({ ...xRight, position: "top", axisLabel: { show: false } }),
      ],
      yAxis: [
        axisBase({ ...yLeft, position: "left", axisLabel: { ...labelStyle, margin: 24, formatter: fmt1, showMinLabel: true, showMaxLabel: true } }),
        axisBase({ ...yLeft, position: "right", axisLabel: { show: false } }),
        axisBase({ ...yRight, position: "left", axisLabel: { ...labelStyle, margin: 24, formatter: fmt1, showMinLabel: true, showMaxLabel: true } }),
        axisBase({ ...yRight, position: "right", axisLabel: { show: false } }),
      ],
      graphic: [
        { type: "text", x: 22, y: 223, rotation: Math.PI / 2, style: { text: "\u0394DEC", font: `18px ${SANS}`, fill: "#111", align: "center", verticalAlign: "middle" } },
        { type: "text", x: 285, y: 547, style: { text: "\u0394RA", font: `19px ${SANS}`, fill: "#111", align: "center", verticalAlign: "middle" } },
        { type: "text", x: 642, y: 234, rotation: Math.PI / 2, style: { text: "E(B\u2212V)", font: `20px ${SANS}`, fill: "#111", align: "center", verticalAlign: "middle" } },
        { type: "text", x: 895, y: 546, style: { text: "pc", font: `18px ${SANS}`, fill: "#111", align: "center", verticalAlign: "middle" } },
      ],
      series: [
        {
          type: "scatter", xAxisIndex: 0, yAxisIndex: 0, silent: true,
          data: pairs(GRAY_STARS), symbol: "circle", symbolSize: 3.9,
          itemStyle: { color: "#7a7a7a", opacity: 1 },
        },
        {
          type: "scatter", xAxisIndex: 0, yAxisIndex: 0, silent: true,
          data: pairs(RED_STARS), symbol: "rect", symbolSize: 5.6,
          itemStyle: { color: "#ff0000", opacity: 1 },
        },
        {
          type: "line", xAxisIndex: 0, yAxisIndex: 0, silent: true, clip: false,
          data: BOX_OUTLINE, symbol: "none",
          lineStyle: { color: "#0000ff", width: 4.5, join: "miter" },
        },
        {
          type: "line", xAxisIndex: 0, yAxisIndex: 0, silent: true, clip: false,
          data: BOX_DIVIDER, symbol: "none",
          lineStyle: { color: "#0000ff", width: 4.5 },
        },
        textScatter(0, 0, REGION_LABELS, { fontFamily: SERIF, fontWeight: "bold", fontSize: 34, color: "#0000ff" }, "center"),
        ...CLOUD_DISTANCES.map((d) => ({
          type: "line", xAxisIndex: 2, yAxisIndex: 2, silent: true, symbol: "none",
          data: [[d, 0.5], [d, -0.1]],
          lineStyle: { color: "#000", width: 4, type: [25, 19], cap: "butt" },
        })),
        errBar(DIST_A, EBV_A, ERR_A),
        errBar(DIST_B, EBV_B, ERR_B),
        curve(DIST_A, EBV_A),
        curve(DIST_B, EBV_B),
        textScatter(2, 2, PANEL_TEXTS, { fontFamily: SERIF, fontWeight: "bold", fontSize: 35, color: "#000" }, "left"),
        textScatter(2, 2, CURVE_LABELS, { fontFamily: SERIF, fontWeight: "bold", fontSize: 23, color: "#0000ff" }, "left"),
      ],
    });
    return () => chart.dispose();
  }, []);
  return <div ref={ref} style={{ width: 1201, height: 558 }} />;
}
